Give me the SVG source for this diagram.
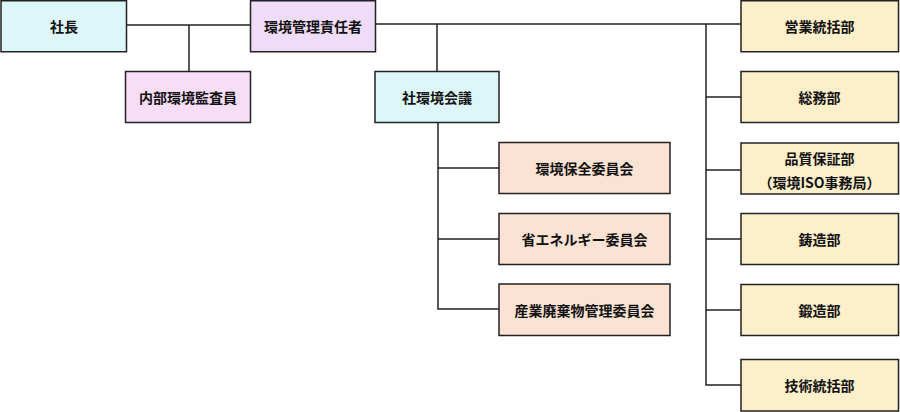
<svg xmlns="http://www.w3.org/2000/svg" width="900" height="412" viewBox="0 0 900 412">
<style>
rect{stroke:#222;stroke-width:1.5}
.cy{fill:#ddf6f8}.pk{fill:#f8ddf6}.lv{fill:#eedcf8}.pc{fill:#fbe3d3}.yl{fill:#fdefc9}
text{font-family:"Noto Sans CJK JP","Noto Sans",sans-serif;font-weight:bold;font-size:14px;fill:#111;text-anchor:middle;dominant-baseline:central}
#connectors path{stroke:#222;stroke-width:1.5;fill:none}
</style>
<rect width="900" height="412" fill="#fff" style="stroke:none"/>
<g id="connectors">
<path d="M126,25H251M189,25V71"/>
<path d="M375,24H741M437,24V71"/>
<path d="M438,123V309H499M438,168H499M438,239H499"/>
<path d="M706,24V385H741M706,97H741M706,170H741M706,239H741M706,310H741"/>
</g>
<g id="shacho"><rect class="cy" x="1" y="0.75" width="125.5" height="51"/><text x="64" y="26">社長</text></g>
<g id="naibu"><rect class="pk" x="125.5" y="71.5" width="125" height="51"/><text x="188" y="97">内部環境監査員</text></g>
<g id="kanri"><rect class="lv" x="250.5" y="0.75" width="125" height="51"/><text x="313" y="26">環境管理責任者</text></g>
<g id="kaigi"><rect class="cy" x="375" y="71.5" width="124" height="51"/><text x="437" y="97">社環境会議</text></g>
<g id="hozen"><rect class="pc" x="499" y="142.5" width="171" height="51"/><text x="584.5" y="168">環境保全委員会</text></g>
<g id="shoene"><rect class="pc" x="499" y="213.5" width="171" height="51"/><text x="584.5" y="239">省エネルギー委員会</text></g>
<g id="sanpai"><rect class="pc" x="499" y="284" width="171" height="51.5"/><text x="584.5" y="310">産業廃棄物管理委員会</text></g>
<g id="eigyo"><rect class="yl" x="741" y="0.75" width="157.5" height="51"/><text x="819.5" y="26">営業統括部</text></g>
<g id="somu"><rect class="yl" x="741" y="71.5" width="157.5" height="51"/><text x="819.5" y="97">総務部</text></g>
<g id="hinshitsu"><rect class="yl" x="741" y="143" width="157.5" height="51"/><text x="819.5" y="158">品質保証部</text><text x="819.5" y="182">（環境ISO事務局）</text></g>
<g id="chuzo"><rect class="yl" x="741" y="213.5" width="157.5" height="51"/><text x="819.5" y="239">鋳造部</text></g>
<g id="tanzo"><rect class="yl" x="741" y="284.5" width="157.5" height="51"/><text x="819.5" y="310">鍛造部</text></g>
<g id="gijutsu"><rect class="yl" x="741" y="359.5" width="157.5" height="51.5"/><text x="819.5" y="385">技術統括部</text></g>
</svg>
